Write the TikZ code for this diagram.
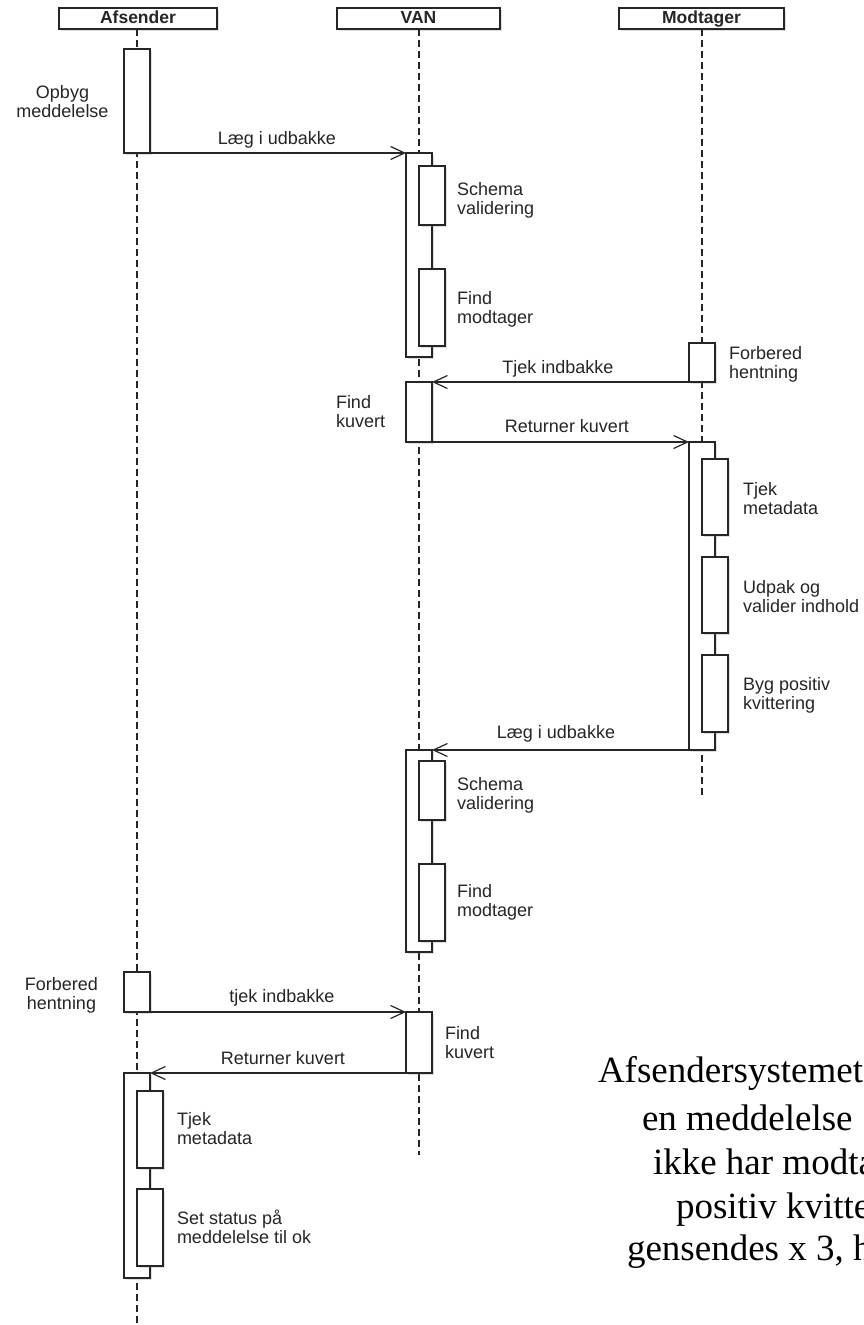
\documentclass[tikz,border=0pt]{standalone}
\usepackage{fontspec}
\setmainfont{Liberation Sans}
\newfontfamily\timesfont{Liberation Serif}
\usetikzlibrary{arrows.meta,shadows}
\definecolor{ink}{HTML}{262626}
\begin{document}
\begin{tikzpicture}[x=1pt,y=-1pt,
  every node/.style={inner sep=0pt,outer sep=0pt},
  shad/.style={drop shadow={shadow xshift=2pt,shadow yshift=-2pt,opacity=0.25}},
  hdr/.style={draw=ink,line width=1.3pt,fill=white,minimum height=21pt,shad,
    text height=12pt,text depth=2pt,
    font=\fontsize{17.5}{19}\selectfont\bfseries,text=ink},
  act/.style={draw=ink,line width=1.3pt,fill=white,minimum width=26pt,anchor=north,shad},
  life/.style={draw=ink,line width=1.2pt,dash pattern=on 6.5pt off 4.5pt},
  msg/.style={draw=ink,line width=1.2pt,-{Straight Barb[length=14pt,width=13pt,line width=1.2pt]}},
  lbl/.style={font=\fontsize{18}{19}\selectfont,text=ink},
  side/.style={lbl,align=left,anchor=north west},
  sidec/.style={lbl,align=center,anchor=north},
  mlbl/.style={lbl,anchor=base},
  big/.style={font=\timesfont\fontsize{37}{44}\selectfont,anchor=base west,text=black}
]
\fill[white] (0,0) rectangle (863,1325);
\useasboundingbox (0,0) rectangle (863,1325);

% headers
\node[hdr,minimum width=158pt] (hA) at (138,18.5) {Afsender};
\node[hdr,minimum width=163pt] (hV) at (418.5,18.5) {VAN};
\node[hdr,minimum width=165pt] (hM) at (701.5,18.5) {Modtager};

% lifelines
\coordinate (sA) at (137,29);
\coordinate (sV) at (419,29);
\coordinate (sM) at (702,29);
\coordinate (eA) at (137,1325);
\coordinate (eV) at (419,1155);
\coordinate (eM) at (702,795);
\draw[life] (sA) -- (eA);
\draw[life] (sV) -- (eV);
\draw[life] (sM) -- (eM);

% activations
\node[act,minimum height=104pt] (a1) at (137,49) {};
\node[act,minimum height=204pt] (v1) at (419,153) {};
\node[act,minimum height=59pt] (v1s) at (432,166) {};
\node[act,minimum height=77pt] (v1f) at (432,269) {};
\node[act,minimum height=39pt] (m1) at (702,343) {};
\node[act,minimum height=60pt] (v2) at (419,382) {};
\node[act,minimum height=308pt] (m2) at (702,442) {};
\node[act,minimum height=76pt] (m2a) at (715,459) {};
\node[act,minimum height=76pt] (m2b) at (715,557) {};
\node[act,minimum height=77pt] (m2c) at (715,655) {};
\node[act,minimum height=202pt] (v3) at (419,750) {};
\node[act,minimum height=59pt] (v3s) at (432,761) {};
\node[act,minimum height=77pt] (v3f) at (432,864) {};
\node[act,minimum height=40pt] (a2) at (137,972) {};
\node[act,minimum height=61pt] (v4) at (419,1012) {};
\node[act,minimum height=205pt] (a3) at (137,1073) {};
\node[act,minimum height=77pt] (a3a) at (150,1091) {};
\node[act,minimum height=77pt] (a3b) at (150,1189) {};

% messages
\draw[msg] (a1.south east) -- (v1.north west);
\draw[msg] (m1.south west) -- (v2.north east);
\draw[msg] (v2.south east) -- (m2.north west);
\draw[msg] (m2.south west) -- (v3.north east);
\draw[msg] (a2.south east) -- (v4.north west);
\draw[msg] (v4.south west) -- (a3.north east);

% message labels
\node[mlbl] (l1) at (277,144) {Læg i udbakke};
\node[mlbl] (l2) at (558,373) {Tjek indbakke};
\node[mlbl] (l3) at (567,432) {Returner kuvert};
\node[mlbl] (l4) at (556,738) {Læg i udbakke};
\node[mlbl] (l5) at (282,1002) {tjek indbakke};
\node[mlbl] (l6) at (283,1064) {Returner kuvert};

% activity labels
\node[sidec] (t1) at (62.5,84.7) {\strut Opbyg\\meddelelse};
\node[side] (t2) at (457,181.7) {\strut Schema\\validering};
\node[side] (t3) at (457,290.7) {\strut Find\\modtager};
\node[side] (t4) at (729,345.7) {\strut Forbered\\hentning};
\node[side] (t5) at (336,394.7) {\strut Find\\kuvert};
\node[side] (t6) at (743,481.7) {\strut Tjek\\metadata};
\node[side] (t7) at (743,579.7) {\strut Udpak og\\valider indhold};
\node[side] (t8) at (743,676.7) {\strut Byg positiv\\kvittering};
\node[side] (t9) at (457,776.7) {\strut Schema\\validering};
\node[side] (t10) at (457,883.7) {\strut Find\\modtager};
\node[sidec] (t11) at (61.5,976.7) {\strut Forbered\\hentning};
\node[side] (t12) at (445,1025.7) {\strut Find\\kuvert};
\node[side] (t13) at (177,1111.7) {\strut Tjek\\metadata};
\node[side] (t14) at (177,1209.7) {\strut Set status på\\meddelelse til ok};

% note text (cut off at the right edge, as in the reference)
\node[big] (n1) at (598,1082) {Afsendersystemet};
\node[big] (n2) at (642,1130) {en meddelelse};
\node[big] (n3) at (653,1174) {ikke har modta};
\node[big] (n4) at (676,1218) {positiv kvitte};
\node[big] (n5) at (627,1260) {gensendes x 3, h};
\end{tikzpicture}
\end{document}
